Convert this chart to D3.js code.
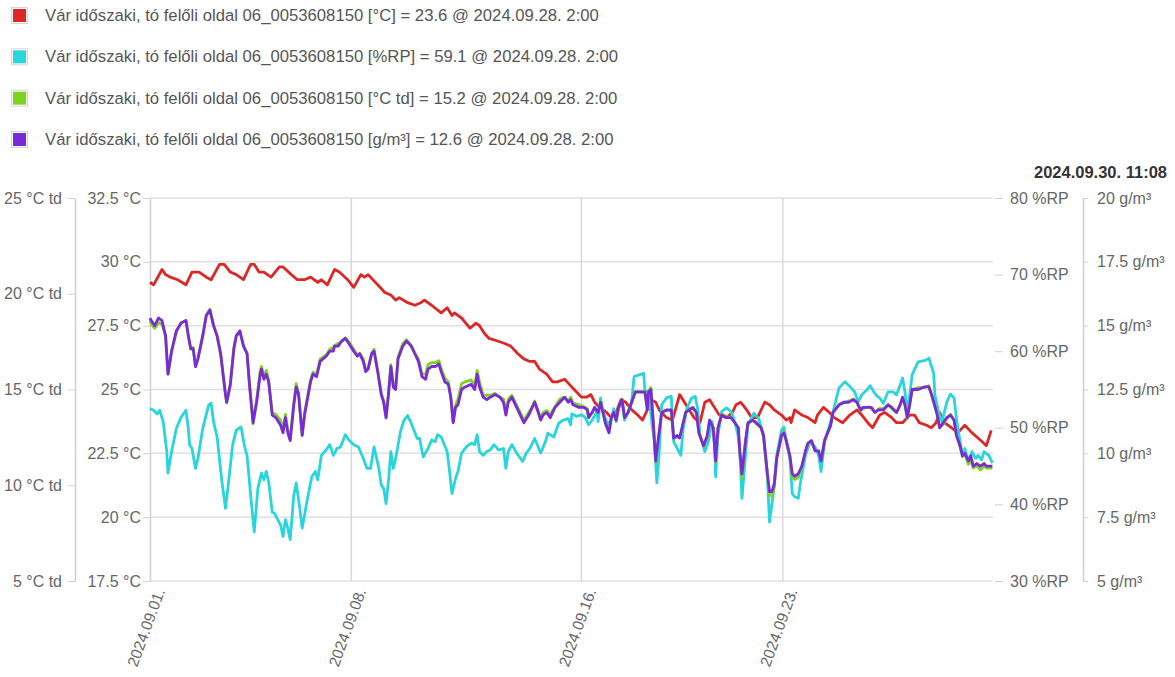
<!DOCTYPE html>
<html>
<head>
<meta charset="utf-8">
<script src="https://cdn.jsdelivr.net/npm/d3@7"></script>
<style>
  body { margin: 0; background: #fff; font-family: "Liberation Sans", Arial, sans-serif; }
  .axis text { fill: #666; font-size: 16px; font-family: "Liberation Sans", Arial, sans-serif; }
  .axis line, .axis path { stroke: #d0d0d0; }
</style>
</head>
<body>
<svg id="chart" width="1175" height="677"></svg>
<script>
// hours since 2024.09.01. 0:00
const tempHours = [0,3,10,13,17,23,30,35,41,47,51,58,62,67,72,78,84,87,91,95,101,108,111,118,123,127,129,134,140,143,
  148,154,158,165,170,176,179,182,190,196,201,205,208,215,221,226,229,235,243,248,252,254,260,267,272,275,279,283,290,296,
  301,307,312,317,321,325,331,336,340,346,350,354,360,364,368,371,375,381,385,389,393,397,402,407,411,414,418,422,425,431,
  436,442,446,450,454,459,463,467,471,475,481,486,489,493,498,502,507,513,517,521,527,531,534,535,538,544,549,555,557,562,
  567,571,578,584,590,594,599,603,609,613,619,623,628,634,638,642,648,652,656,659,663,669,674,680,686,691,698,702];
const tempValues = [29.2,29.1,29.7,29.5,29.4,29.3,29.1,29.6,29.6,29.4,29.3,29.9,29.9,29.6,29.5,29.3,29.9,29.9,29.6,29.6,
  29.4,29.8,29.8,29.5,29.3,29.3,29.3,29.4,29.2,29.3,29.1,29.7,29.6,29.3,29.0,29.5,29.4,29.5,29.1,28.8,
  28.7,28.5,28.6,28.4,28.3,28.4,28.5,28.3,28.0,28.2,27.9,28.0,27.8,27.4,27.6,27.5,27.2,27.0,26.9,26.8,
  26.7,26.4,26.2,26.1,26.1,25.8,25.6,25.3,25.3,25.4,25.2,25.0,24.7,24.7,24.8,24.5,24.3,24.1,23.9,24.1,
  24.6,24.5,24.2,24.0,23.8,24.1,24.6,24.5,24.2,23.9,23.8,24.8,24.5,24.2,23.9,23.7,24.5,24.6,24.3,24.0,
  23.9,24.1,24.4,24.5,24.2,23.9,23.9,24.5,24.4,24.2,24.0,23.8,23.9,23.7,24.2,24.0,23.9,23.7,24.0,24.3,
  24.1,23.9,23.7,24.0,24.2,24.0,23.7,23.5,24.0,24.1,23.9,23.7,23.7,24.0,24.0,23.7,23.6,23.5,23.7,24.1,
  23.7,23.5,23.3,23.6,23.3,23.1,22.8,23.4];

const rhHours = [0,3,6,8,11,14,15,18,22,26,30,32,33,35,38,40,44,49,51,53,56,60,63,65,69,72,76,79,81,84,
  87,90,93,95,97,99,102,104,109,111,113,115,117,120,122,125,127,131,135,138,140,143,147,150,153,156,159,163,166,170,
  174,178,181,184,187,191,193,195,197,199,201,203,205,209,212,215,218,223,225,228,232,235,238,240,243,248,250,252,255,257,
  260,264,268,271,273,275,278,281,284,287,291,295,297,299,302,306,311,314,317,321,326,330,332,337,341,345,349,351,352,356,
  360,363,366,369,373,374,376,378,382,385,387,389,391,394,396,399,402,404,408,412,413,416,419,421,423,425,427,431,435,437,
  440,443,445,448,452,455,457,459,463,466,469,471,472,474,477,481,485,488,491,492,494,497,499,504,508,512,515,517,520,523,
  527,529,531,534,536,538,541,543,547,551,555,558,560,563,568,570,575,580,584,588,591,594,598,601,604,607,609,612,616,620,
  623,626,628,630,632,634,636,641,647,650,654,655,658,661,665,668,671,673,676,678,680,683,686,689,691,694,696,700,703];
const rhValues = [52.5,52.3,51.8,52.3,50.8,46.9,44.1,46.9,49.9,51.4,52.3,49.9,47.8,47.3,44.7,46.0,49.9,53.0,53.2,50.8,
  48.8,43.0,39.5,42.1,47.8,49.7,50.1,47.5,46.4,41.2,36.4,42.1,44.1,43.2,44.3,43.0,39.0,38.8,37.3,35.8,
  38.0,36.9,35.4,41.2,42.8,39.5,36.9,40.4,43.6,44.3,43.2,46.4,47.1,47.8,46.4,47.3,47.5,49.1,48.4,47.8,
  47.5,46.0,44.7,44.7,47.5,44.7,42.5,42.1,40.1,43.0,46.9,44.7,46.0,49.5,51.0,51.6,50.6,48.6,48.6,46.2,
  47.3,48.4,48.2,49.1,48.8,46.9,44.3,41.4,43.4,44.3,46.7,47.5,48.0,47.8,49.1,46.9,46.4,46.9,47.1,47.8,
  47.1,47.3,44.7,46.9,47.8,46.7,45.6,46.7,47.3,48.6,46.7,48.2,49.3,48.8,50.6,51.0,51.2,50.4,51.8,51.5,
  51.7,51.4,50.4,51.0,52.1,50.8,53.9,52.1,50.4,51.2,52.5,50.8,52.5,53.4,51.0,52.1,53.4,56.7,56.9,57.1,
  54.9,54.7,50.4,48.2,42.8,46.9,53.0,53.9,54.1,48.2,47.3,46.4,49.9,52.5,53.9,54.1,52.5,49.1,46.9,48.2,
  50.8,49.1,43.6,49.1,52.1,52.6,52.1,50.8,48.8,47.3,40.8,46.4,50.4,51.9,51.2,49.1,44.3,37.7,41.2,46.4,
  49.7,50.1,48.2,46.0,41.4,41.0,40.8,43.0,46.4,48.2,47.5,46.4,44.3,48.2,50.8,52.1,55.2,56.0,55.4,54.7,
  53.4,54.3,54.9,55.5,54.7,54.1,53.9,53.2,54.7,54.7,54.3,55.6,56.5,54.7,52.1,54.3,56.9,58.6,58.8,59.1,
  57.1,54.3,52.1,50.8,53.4,54.4,53.9,51.2,48.2,46.4,47.3,45.6,46.9,46.0,46.4,45.8,46.9,46.4,45.4];

// dew point and absolute humidity share the same sample times
const humHours = [0,1,4,7,10,13,15,18,22,26,30,32,34,36,38,40,44,47,50,53,56,59,63,64,67,70,72,75,78,81,
  83,86,89,92,93,95,97,99,102,105,109,111,113,115,117,120,122,124,127,129,134,136,139,142,147,150,153,154,157,160,
  163,166,170,173,175,178,180,182,185,187,190,193,195,197,199,201,203,205,207,211,214,218,221,224,227,230,232,235,238,241,
  243,246,249,251,253,255,257,260,263,268,271,273,275,278,281,284,288,292,295,297,299,302,305,309,312,316,319,321,324,326,
  328,331,334,338,342,346,349,351,353,358,362,365,366,369,371,374,376,378,380,383,385,387,389,391,394,396,399,402,405,409,
  413,415,416,418,420,422,424,427,431,435,437,440,442,444,447,450,453,456,458,462,465,467,470,472,474,477,481,485,488,491,
  492,494,497,499,503,506,510,512,515,517,519,521,523,527,529,531,534,536,538,541,544,547,549,552,555,558,560,563,568,570,
  575,579,583,587,590,593,595,600,602,605,608,612,616,619,623,626,628,630,632,634,636,641,646,650,653,657,659,662,665,668,
  671,673,676,678,680,683,685,687,690,693,696,698,703];
const dewValues = [18.6,18.4,18.2,18.5,18.4,17.8,15.8,17.0,18.0,18.5,18.6,17.8,17.1,17.2,16.2,16.6,17.8,18.9,19.2,18.4,
  17.8,16.8,14.7,14.3,15.2,17.2,17.8,18.0,17.3,16.9,15.3,13.2,14.5,16.0,16.2,15.7,16.0,15.5,13.8,13.7,
  13.4,12.9,13.7,12.9,12.4,14.3,15.3,14.8,12.6,13.8,15.5,15.9,15.8,16.6,16.8,17.1,17.2,17.3,17.4,17.5,
  17.7,17.5,17.1,16.8,16.9,16.6,16.0,16.1,16.9,17.1,16.0,14.8,14.4,13.5,14.8,16.3,15.3,15.1,16.7,17.4,
  17.6,17.3,16.9,16.6,15.8,15.8,16.3,16.4,16.4,16.5,16.1,15.6,15.4,14.6,13.3,14.2,14.5,15.3,15.4,15.5,
  15.2,16.0,15.4,14.7,14.7,14.7,14.8,14.6,14.5,13.7,14.5,14.7,14.3,13.8,13.4,13.8,14.1,14.4,13.9,13.5,
  13.8,13.9,13.7,14.1,14.5,14.6,14.4,14.6,14.3,14.2,14.1,14.0,13.6,13.8,14.0,13.8,14.4,13.8,13.2,12.8,
  13.5,13.8,13.4,14.0,14.5,13.5,13.8,14.4,14.9,14.9,14.9,14.0,14.9,15.1,13.3,11.2,12.3,13.8,13.9,13.9,
  12.5,12.5,12.5,13.0,13.8,14.0,14.0,13.8,12.8,12.0,12.5,13.4,13.0,11.2,13.0,13.7,13.6,13.5,13.3,13.0,
  11.9,10.4,12.3,13.2,13.4,13.2,13.0,12.5,10.6,9.5,9.4,9.9,11.4,12.6,12.8,12.3,11.5,10.4,10.3,10.4,
  11.0,11.7,12.1,12.3,11.8,11.8,11.3,12.4,13.1,13.8,14.2,14.3,14.4,14.5,14.3,13.9,14.0,14.1,14.0,13.8,
  14.0,14.0,14.2,14.0,13.8,14.2,14.5,14.2,13.5,14.2,15.0,15.1,15.1,15.2,14.5,13.7,13.0,13.2,13.5,13.7,
  13.4,12.6,12.0,11.5,11.6,11.1,11.3,10.9,11.0,10.8,11.0,10.9,10.9];
const absValues = [15.3,15.2,15.0,15.3,15.2,14.6,13.1,14.0,14.8,15.1,15.2,14.6,14.1,14.1,13.4,13.7,14.6,15.4,15.6,15.0,
  14.6,13.9,12.3,12.0,12.7,14.1,14.6,14.8,14.2,13.9,12.7,11.2,12.0,13.1,13.3,12.9,13.1,12.8,11.5,11.4,
  11.1,10.8,11.4,10.8,10.5,11.9,12.6,12.3,10.7,11.5,12.8,13.1,13.0,13.6,13.8,14.0,14.0,14.2,14.2,14.4,
  14.5,14.3,14.0,13.8,13.9,13.6,13.2,13.3,13.9,14.0,13.2,12.3,12.0,11.4,12.3,13.4,12.6,12.5,13.7,14.2,
  14.4,14.2,13.9,13.6,13.0,12.9,13.3,13.4,13.4,13.5,13.2,12.8,12.7,12.2,11.2,11.8,11.9,12.5,12.6,12.7,
  12.5,13.1,12.6,12.2,12.1,12.2,12.3,12.2,12.0,11.5,12.0,12.2,11.9,11.5,11.2,11.5,11.8,12.0,11.6,11.3,
  11.5,11.6,11.4,11.8,12.0,12.2,12.0,12.1,11.9,11.8,11.8,11.7,11.4,11.6,11.8,11.6,12.0,11.6,11.2,10.8,
  11.4,11.6,11.3,11.8,12.1,11.4,11.6,12.0,12.4,12.4,12.4,11.7,12.4,12.5,11.2,9.7,10.5,11.6,11.7,11.7,
  10.6,10.7,10.6,11.0,11.6,11.7,11.8,11.6,10.8,10.3,10.7,11.3,11.0,9.7,11.0,11.5,11.4,11.4,11.2,11.0,
  10.2,9.2,10.5,11.2,11.3,11.2,11.0,10.7,9.3,8.5,8.5,8.8,9.8,10.7,10.8,10.5,9.9,9.2,9.1,9.2,
  9.5,10.1,10.4,10.5,10.1,10.1,9.7,10.5,11.1,11.6,11.9,12.0,12.0,12.1,12.0,11.7,11.8,11.8,11.8,11.6,
  11.7,11.7,11.9,11.8,11.6,11.9,12.2,11.9,11.4,11.9,12.5,12.5,12.6,12.6,12.2,11.5,11.0,11.2,11.4,11.5,
  11.3,10.7,10.3,9.9,10.0,9.7,9.9,9.5,9.6,9.5,9.6,9.5,9.5];

const legendLabels = [
  "Vár időszaki, tó felőli oldal 06_0053608150 [°C] = 23.6 @ 2024.09.28. 2:00",
  "Vár időszaki, tó felőli oldal 06_0053608150 [%RP] = 59.1 @ 2024.09.28. 2:00",
  "Vár időszaki, tó felőli oldal 06_0053608150 [°C td] = 15.2 @ 2024.09.28. 2:00",
  "Vár időszaki, tó felőli oldal 06_0053608150 [g/m³] = 12.6 @ 2024.09.28. 2:00"
];
const colors = ["#dd2727", "#2ad5da", "#7ed321", "#7a2bd8"];
const tempTicks = [17.5, 20, 22.5, 25, 27.5, 30, 32.5];
const dewTicks = [5, 10, 15, 20, 25];
const rhTicks = [30, 40, 50, 60, 70, 80];
const absTicks = [5, 7.5, 10, 12.5, 15, 17.5, 20];
const dateTicks = ["2024-09-01", "2024-09-08", "2024-09-16", "2024-09-23"];
const stamp = "2024.09.30. 11:08";

const plot = { left: 150, right: 993, top: 198, bottom: 581 };
const start = new Date(2024, 8, 1, 0, 0);
const end = new Date(2024, 8, 30, 7, 30);

const svg = d3.select("#chart");

const x = d3.scaleTime().domain([start, end]).range([plot.left, plot.right]);
const yTemp = d3.scaleLinear().domain([17.5, 32.5]).range([plot.bottom, plot.top]);
const yDew = d3.scaleLinear().domain([5, 25]).range([plot.bottom, plot.top]);
const yRh = d3.scaleLinear().domain([30, 80]).range([plot.bottom, plot.top]);
const yAbs = d3.scaleLinear().domain([5, 20]).range([plot.bottom, plot.top]);

const parseDay = d3.timeParse("%Y-%m-%d");
const fmtDay = d3.timeFormat("%Y.%m.%d.");

// grid
svg.append("g")
  .selectAll("line")
  .data(tempTicks)
  .join("line")
  .attr("x1", plot.left).attr("x2", plot.right)
  .attr("y1", d => yTemp(d)).attr("y2", d => yTemp(d))
  .attr("stroke", "#e0e0e0").attr("stroke-width", 1.5);

svg.append("g")
  .selectAll("line")
  .data(dateTicks.slice(1))
  .join("line")
  .attr("x1", d => x(parseDay(d))).attr("x2", d => x(parseDay(d)))
  .attr("y1", plot.top).attr("y2", plot.bottom)
  .attr("stroke", "#d8d8d8").attr("stroke-width", 1.5);

// axes
svg.append("g").attr("class", "axis")
  .attr("transform", "translate(75,0)")
  .call(d3.axisLeft(yDew).tickValues(dewTicks).tickSize(7).tickSizeOuter(0).tickPadding(6)
    .tickFormat(d => d + " °C td"));

svg.append("g").attr("class", "axis")
  .attr("transform", `translate(${plot.left},0)`)
  .call(d3.axisLeft(yTemp).tickValues(tempTicks).tickSize(7).tickSizeOuter(0).tickPadding(2)
    .tickFormat(d => d + " °C"));

const rhAxis = svg.append("g").attr("class", "axis")
  .attr("transform", "translate(995,0)")
  .call(d3.axisRight(yRh).tickValues(rhTicks).tickSize(8).tickSizeOuter(0).tickPadding(7)
    .tickFormat(d => d + " %RP"));
rhAxis.select(".domain").remove();

svg.append("g").attr("class", "axis")
  .attr("transform", "translate(1083,0)")
  .call(d3.axisRight(yAbs).tickValues(absTicks).tickSize(5).tickSizeOuter(0).tickPadding(9)
    .tickFormat(d => d + " g/m³"));

svg.selectAll(".axis .domain").attr("stroke", "#d0d0d0").attr("stroke-width", 1.5);

// x labels
svg.append("g")
  .selectAll("text")
  .data(dateTicks)
  .join("text")
  .attr("transform", d => `translate(${x(parseDay(d)) + 10},589) rotate(-70)`)
  .attr("text-anchor", "end")
  .attr("dy", "0.35em")
  .attr("fill", "#666")
  .style("font-size", "15.5px")
  .text(d => fmtDay(parseDay(d)));

// lines
const series = [
  { hours: tempHours, values: tempValues, y: yTemp },
  { hours: rhHours, values: rhValues, y: yRh },
  { hours: humHours, values: dewValues, y: yDew },
  { hours: humHours, values: absValues, y: yAbs }
];

series.forEach((s, i) => {
  const pts = s.hours.map((h, j) => ({ t: d3.timeHour.offset(start, h), v: s.values[j] }));
  const line = d3.line().x(d => x(d.t)).y(d => s.y(d.v));
  svg.append("path")
    .datum(pts)
    .attr("d", line)
    .attr("fill", "none")
    .attr("stroke", colors[i])
    .attr("stroke-width", 2.8)
    .attr("stroke-linejoin", "round");
});

// legend
const legend = svg.append("g");
const rowY = d3.scalePoint().domain(d3.range(legendLabels.length)).range([15, 139]);
legendLabels.forEach((label, i) => {
  const g = legend.append("g").attr("transform", `translate(0,${rowY(i)})`);
  g.append("rect").attr("x", 11.5).attr("y", -7.5).attr("width", 16).attr("height", 16)
    .attr("fill", "#fff").attr("stroke", "#d5d5d5");
  g.append("rect").attr("x", 13).attr("y", -6).attr("width", 13).attr("height", 13)
    .attr("fill", colors[i]);
  g.append("text").attr("x", 45).attr("y", 6)
    .attr("fill", "#555").style("font-size", "16.7px")
    .text(label);
});

svg.append("text")
  .attr("x", 1167).attr("y", 178)
  .attr("text-anchor", "end")
  .attr("fill", "#333")
  .style("font-size", "16.5px").style("font-weight", "bold")
  .text(stamp);
</script>
</body>
</html>
